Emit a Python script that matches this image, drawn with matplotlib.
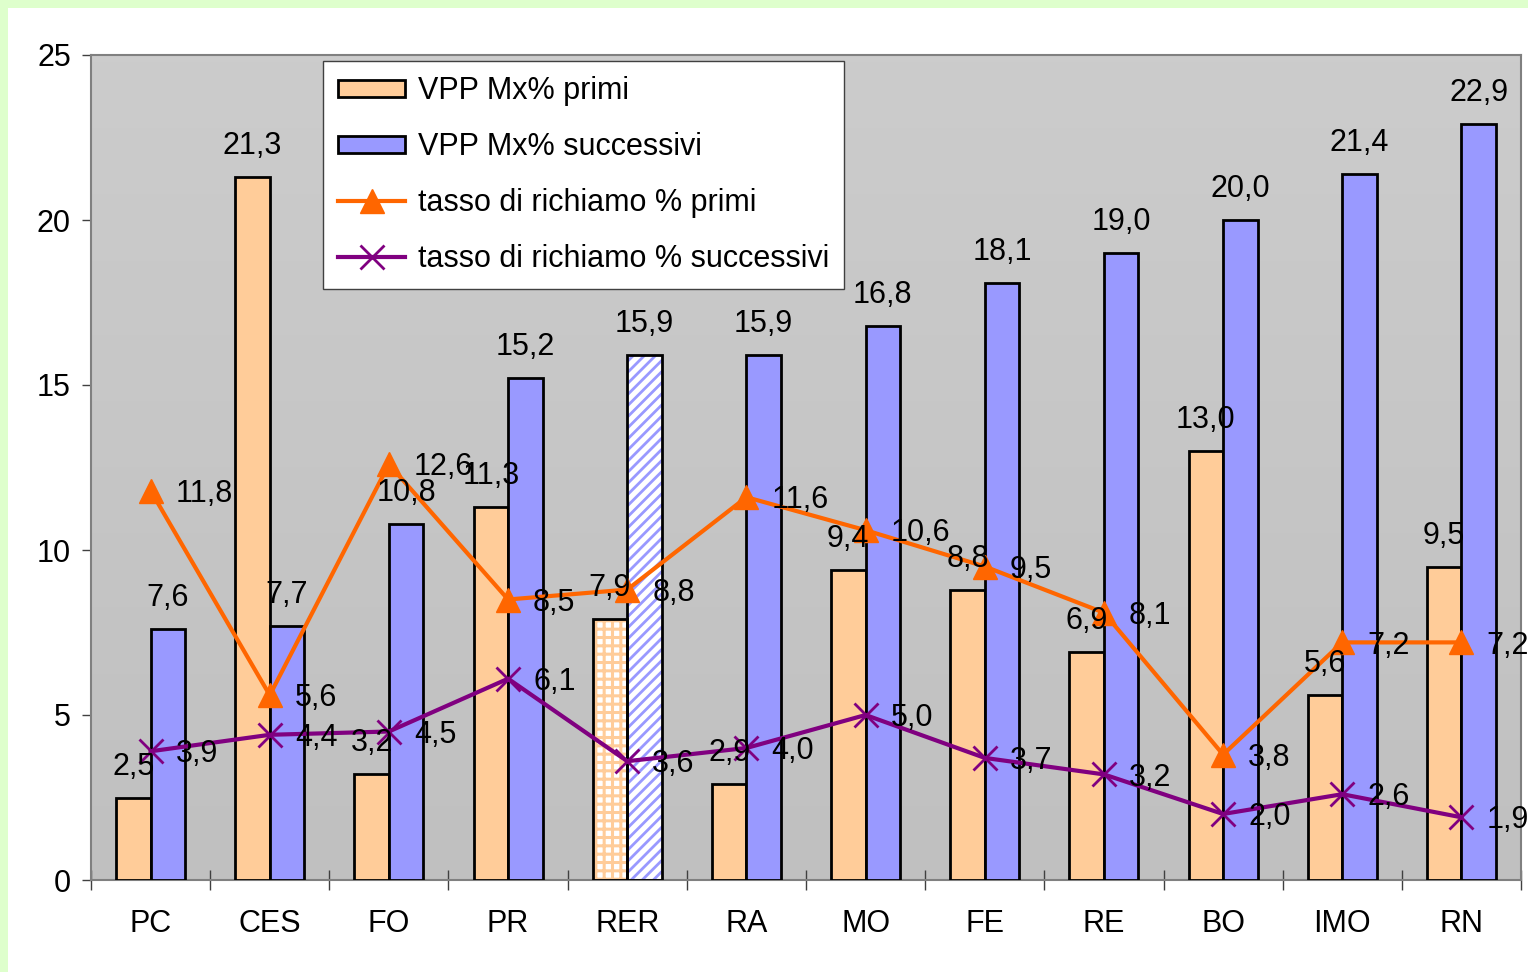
import numpy as np
import matplotlib.pyplot as plt
from matplotlib.patches import Rectangle

plt.rcParams['font.family'] = ['Liberation Sans', 'DejaVu Sans']

categorie = ['PC', 'CES', 'FO', 'PR', 'RER', 'RA', 'MO', 'FE', 'RE', 'BO', 'IMO', 'RN']
vpp_primi = [2.5, 21.3, 3.2, 11.3, 7.9, 2.9, 9.4, 8.8, 6.9, 13.0, 5.6, 9.5]
vpp_succ = [7.6, 7.7, 10.8, 15.2, 15.9, 15.9, 16.8, 18.1, 19.0, 20.0, 21.4, 22.9]
tasso_primi = [11.8, 5.6, 12.6, 8.5, 8.8, 11.6, 10.6, 9.5, 8.1, 3.8, 7.2, 7.2]
tasso_succ = [3.9, 4.4, 4.5, 6.1, 3.6, 4.0, 5.0, 3.7, 3.2, 2.0, 2.6, 1.9]
evidenziata = 'RER'
etichette = ['VPP Mx% primi', 'VPP Mx% successivi', 'tasso di richiamo % primi',
             'tasso di richiamo % successivi']

peach = '#FFCC99'
blue = '#9999FF'
orange = '#FF6600'
purple = '#800080'

fig = plt.figure(figsize=(15.28, 9.72), dpi=100, facecolor='white')
# bordo verde chiaro
fig.patches.append(Rectangle((0, 0), 1, 1, transform=fig.transFigure,
                             facecolor='#DEFFCC', edgecolor='none', zorder=-10))
fig.patches.append(Rectangle((8 / 1528, 0), 1, 1 - 8 / 972, transform=fig.transFigure,
                             facecolor='white', edgecolor='none', zorder=-9))

ax = fig.add_axes([91 / 1528, 1 - 880 / 972, 1430 / 1528, 825 / 972])
ax.set_xlim(-0.5, 11.5)
ax.set_ylim(0, 25)

# sfondo grigio sfumato
grad = np.linspace(0, 1, 100).reshape(-1, 1)
ax.imshow(grad, cmap=plt.matplotlib.colors.LinearSegmentedColormap.from_list(
    'g', ['#C0C0C0', '#CCCCCC']), extent=(-0.5, 11.5, 0, 25), origin='lower',
    aspect='auto', zorder=0)

x = np.arange(len(categorie))
w = 0.29
h_primi = h_succ = None
for i, c in enumerate(categorie):
    if c == evidenziata:
        with plt.rc_context({'hatch.linewidth': 2.2}):
            b1 = ax.bar(x[i] - w / 2, vpp_primi[i], w, color='white', hatch='++',
                        edgecolor=peach, linewidth=0, zorder=2)
        with plt.rc_context({'hatch.linewidth': 2.0}):
            b2 = ax.bar(x[i] + w / 2, vpp_succ[i], w, color='white', hatch='///',
                        edgecolor=blue, linewidth=0, zorder=2)
        for b, lw in ((b1, 2.2), (b2, 2.0)):
            if hasattr(b[0], 'set_hatch_linewidth'):
                b[0].set_hatch_linewidth(lw)
        ax.bar(x[i] - w / 2, vpp_primi[i], w, fill=False, edgecolor='black', linewidth=2, zorder=3)
        ax.bar(x[i] + w / 2, vpp_succ[i], w, fill=False, edgecolor='black', linewidth=2, zorder=3)
    else:
        p = ax.bar(x[i] - w / 2, vpp_primi[i], w, color=peach, edgecolor='black', linewidth=2, zorder=3)
        s = ax.bar(x[i] + w / 2, vpp_succ[i], w, color=blue, edgecolor='black', linewidth=2, zorder=3)
        if h_primi is None:
            h_primi, h_succ = p, s

l1, = ax.plot(x, tasso_primi, color=orange, lw=3, marker='^', ms=17, zorder=5)
l2, = ax.plot(x, tasso_succ, color=purple, lw=3, marker='x', ms=17, mew=2, zorder=5)

def fmt(v):
    return f'{v:.1f}'.replace('.', ',')

for i in range(len(categorie)):
    ax.annotate(fmt(vpp_primi[i]), (x[i] - w / 2, vpp_primi[i]), xytext=(0, 16.5),
                textcoords='offset points', ha='center', va='baseline', fontsize=22, zorder=6)
    ax.annotate(fmt(vpp_succ[i]), (x[i] + w / 2, vpp_succ[i]), xytext=(0, 16.5),
                textcoords='offset points', ha='center', va='baseline', fontsize=22, zorder=6)
    ax.annotate(fmt(tasso_primi[i]), (x[i], tasso_primi[i]), xytext=(18, -8),
                textcoords='offset points', ha='left', va='baseline', fontsize=22, zorder=6)
    ax.annotate(fmt(tasso_succ[i]), (x[i], tasso_succ[i]), xytext=(18, -8),
                textcoords='offset points', ha='left', va='baseline', fontsize=22, zorder=6)

for s in ax.spines.values():
    s.set_color('#808080')
    s.set_linewidth(1.5)

ax.set_yticks(range(0, 26, 5))
ax.tick_params(axis='y', direction='out', length=6.5, width=1, colors='#404040',
               labelcolor='black', labelsize=22, pad=8)
ax.set_xticks(x)
ax.set_xticklabels(categorie)
ax.tick_params(axis='x', which='major', length=0, labelsize=22, pad=21)
ax.set_xticks(np.arange(-0.5, 12, 1), minor=True)
ax.tick_params(axis='x', which='minor', direction='inout', length=14, width=1, colors='#404040')

leg = ax.legend(handles=[h_primi, h_succ, l1, l2], labels=etichette,
                loc='upper left', bbox_to_anchor=(0.1622, 0.9927), borderaxespad=0,
                fontsize=22, fancybox=False, framealpha=1, edgecolor='#404040',
                handlelength=2.2, handleheight=0.5, handletextpad=0.4,
                labelspacing=0.85, borderpad=0.5)
leg.get_frame().set_linewidth(1)
leg.set_zorder(10)

fig.savefig('out.png', dpi=100)
